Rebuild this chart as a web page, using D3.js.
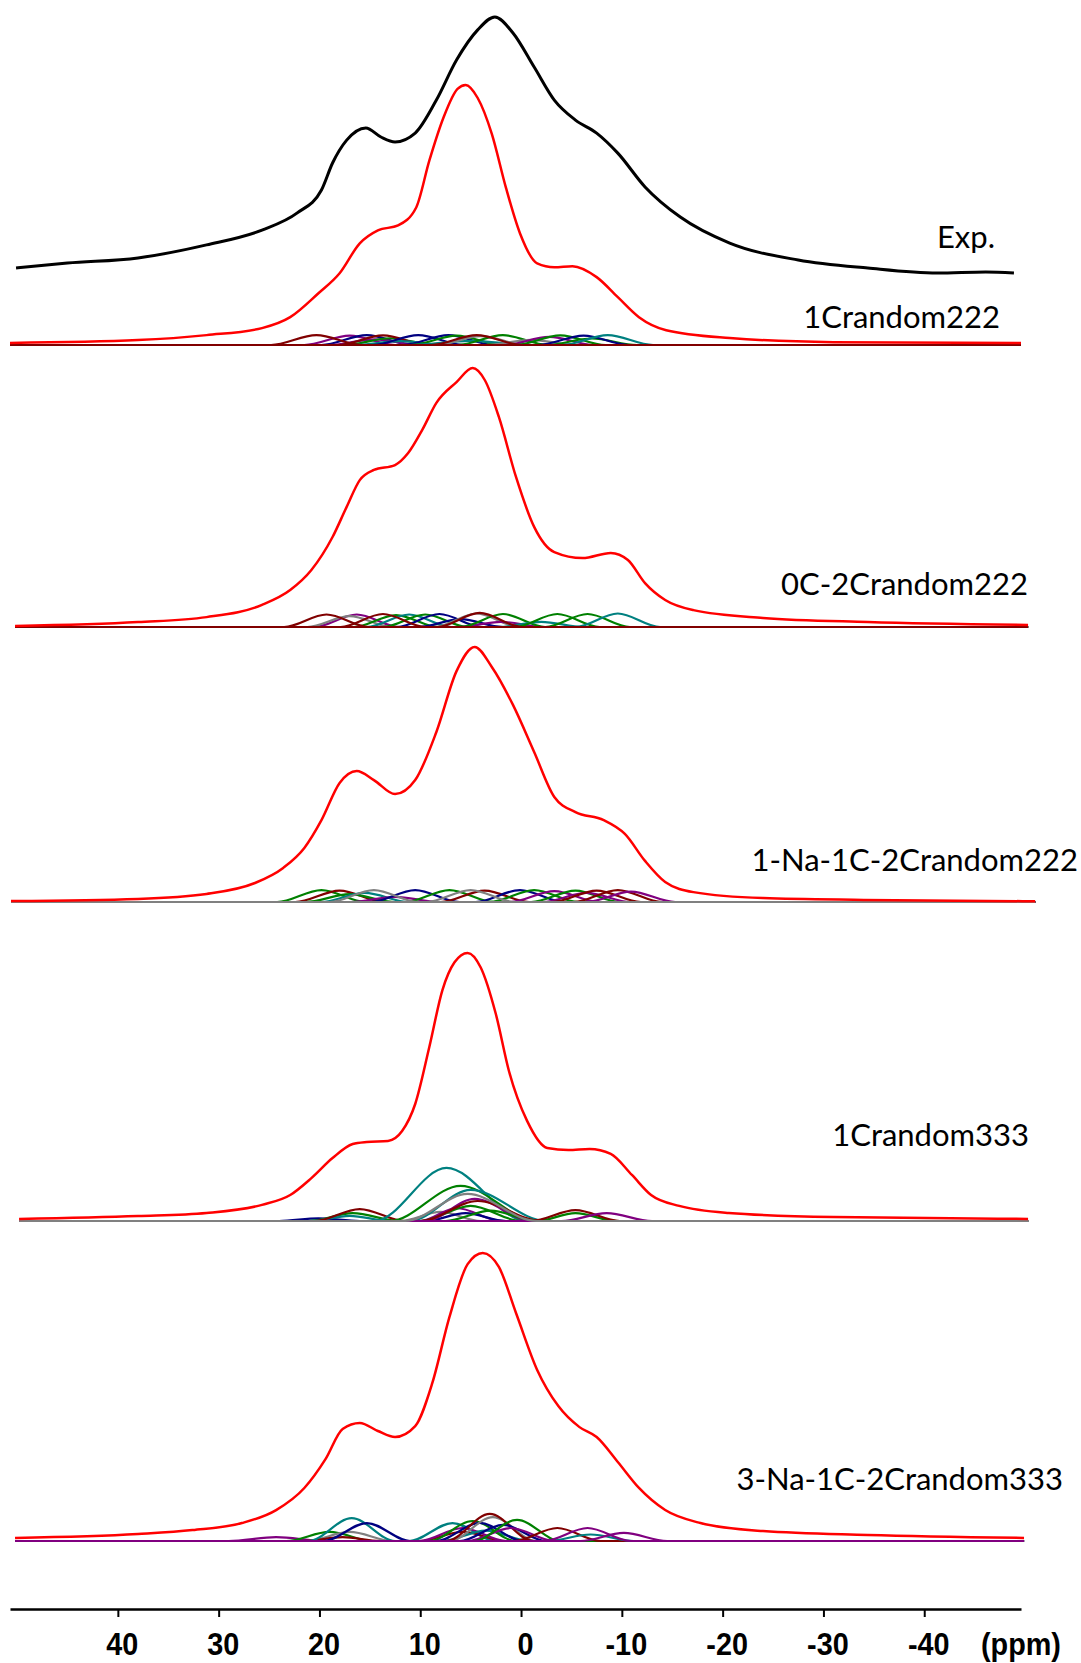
<!DOCTYPE html>
<html>
<head>
<meta charset="utf-8">
<script src="https://cdn.jsdelivr.net/npm/d3@7/dist/d3.min.js"></script>
<style>
  body { margin: 0; background: #fff; }
  .lbl { font-family: Lato, "Open Sans", sans-serif; font-size: 31px; fill: #000; }
  .axis text { font-family: "Liberation Sans", Arial, sans-serif; font-size: 32px; font-weight: bold; fill: #000; }
  .axis path { stroke: #000; stroke-width: 2.5; }
  .axis line { stroke: #000; stroke-width: 2; }
</style>
</head>
<body>
<script>
// chemical shift ticks (ppm)
var ppmTicks = [40, 30, 20, 10, 0, -10, -20, -30, -40];

// names
var expName = "Exp.";
var panelNames = ["1Crandom222", "0C-2Crandom222", "1-Na-1C-2Crandom222", "1Crandom333", "3-Na-1C-2Crandom333"];

// experimental spectrum [ppm, intensity], drawn with an offset above panel 1
var expOffset = 30;
var expSpec = [[50.1,-0.4],[45.0,1.5],[38.0,3.5],[31.2,8.5],[25.7,14.2],[22.2,20.8],[19.8,29.6],[18.7,40.0],[17.3,48.8],[15.4,53.5],[13.9,50.0],[12.5,48.1],[10.5,51.5],[8.4,64.2],[6.4,79.6],[4.3,91.2],[2.6,96.2],[0.8,90.0],[-1.3,76.9],[-3.3,64.2],[-5.4,56.5],[-7.5,51.5],[-9.6,43.8],[-12.3,30.8],[-15.8,19.2],[-20.7,9.2],[-27.5,2.7],[-34.4,-0.4],[-41.3,-2.3],[-46.1,-1.9],[-48.9,-2.3]];

// simulated total spectra (red)
var sim1 = [[50.7,0.8],[38.0,1.9],[31.2,3.8],[25.7,6.5],[22.9,10.7],[20.1,19.9],[18.0,27.6],[16.0,39.1],[14.2,44.1],[12.2,46.0],[10.4,52.9],[9.1,70.9],[7.7,87.4],[6.3,98.5],[5.5,100],[4.3,95],[2.9,81.2],[1.5,60.5],[0.1,42.9],[-1.6,31.4],[-3.3,29.9],[-5.1,30.3],[-7.5,26.1],[-9.6,18.4],[-11.7,10.7],[-14.4,5.7],[-20.7,2.7],[-31.0,1.1],[-49.6,0.8]];
var sim2 = [[50.2,0.4],[38.0,1.9],[31.2,3.8],[25.7,8.5],[22.9,14.2],[20.8,21.9],[18.7,34.6],[17.3,46.2],[16.0,56.5],[14.6,60.4],[12.5,62.3],[11.2,66.9],[9.8,75.8],[8.4,86.2],[6.4,94.2],[4.8,99.6],[3.6,95.0],[2.2,80.8],[0.5,57.7],[-1.3,38.5],[-3.3,28.8],[-6.1,26.5],[-8.9,28.5],[-10.6,25.8],[-12.3,16.9],[-14.3,10.4],[-17.1,6.5],[-24.0,3.5],[-34.4,1.9],[-50.3,0.8]];
var sim3 = [[50.6,0.4],[38.0,1.2],[31.2,3.1],[26.4,7.3],[23.6,13.1],[21.5,20.8],[19.8,31.5],[18.0,45.8],[16.3,50.4],[14.6,46.9],[12.5,41.5],[10.5,46.9],[8.4,65.4],[6.4,88.8],[4.6,98.1],[2.9,90.4],[0.8,75.8],[-1.3,57.7],[-3.3,40.4],[-5.4,34.6],[-8.2,31.5],[-10.3,26.2],[-12.3,15.8],[-14.3,7.7],[-17.1,3.8],[-24.0,1.5],[-34.0,0.8],[-51.0,0.3]];
var sim4 = [[49.8,0.8],[38.0,1.9],[31.2,3.1],[25.7,6.2],[22.9,10.0],[20.8,16.5],[18.7,24.2],[16.7,29.6],[15.3,30.4],[13.2,30.8],[11.8,34.6],[10.5,45.0],[9.1,66.9],[7.8,88.8],[6.6,99.5],[5.3,103.1],[4.0,97.5],[2.5,79.6],[1.2,57.7],[-0.6,38.5],[-2.6,28.1],[-4.7,27.3],[-6.8,27.7],[-8.9,25.8],[-11.0,17.7],[-12.9,10.0],[-15.7,5.8],[-20.6,3.1],[-31.0,1.5],[-50.3,0.8]];
var sim5 = [[50.2,1.2],[38.0,2.7],[32.6,4.2],[27.7,6.9],[24.3,11.9],[21.5,20.4],[19.4,31.5],[17.7,43.1],[16.0,45.4],[14.2,42.3],[12.5,40.0],[10.5,44.2],[8.8,60.8],[7.1,86.2],[5.3,106.5],[3.8,110.8],[2.2,105.4],[0.5,87.7],[-1.6,65.8],[-3.7,51.9],[-5.8,43.8],[-7.5,40.0],[-9.6,30.4],[-11.7,20.4],[-14.3,11.9],[-17.8,6.9],[-24.0,3.8],[-34.4,2.3],[-49.9,1.2]];

// individual site components [group, points]
var comps1 = [
  ["pu", [[21.5,0],[17.0,3.6],[12.5,0]]],
  ["nv", [[19.8,0],[15.3,3.8],[10.8,0]]],
  ["pu", [[19.0,0],[14.5,2.2],[10.0,0]]],
  ["gr", [[17.5,0],[13.0,2.6],[8.5,0]]],
  ["mr", [[18.2,0],[13.7,3.7],[9.2,0]]],
  ["tl", [[16.5,0],[12.0,1.5],[7.5,0]]],
  ["nv", [[14.7,0],[10.2,3.8],[5.7,0]]],
  ["nv", [[11.7,0],[7.2,3.8],[2.7,0]]],
  ["gr", [[10.9,0],[6.4,3.6],[1.9,0]]],
  ["tl", [[11.0,0],[5.0,1.6],[-1.0,0]]],
  ["gy", [[8.5,0],[4.0,3.4],[-0.5,0]]],
  ["gr", [[6.3,0],[1.8,3.8],[-2.7,0]]],
  ["gy", [[3.5,0],[-1.0,2.0],[-5.5,0]]],
  ["pu", [[1.7,0],[-2.8,3.1],[-7.3,0]]],
  ["gr", [[0.6,0],[-3.9,3.7],[-8.4,0]]],
  ["gr", [[-2.5,0],[-7.0,2.5],[-11.5,0]]],
  ["nv", [[-1.7,0],[-6.2,3.6],[-10.7,0]]],
  ["tl", [[-4.1,0],[-8.6,3.8],[-13.1,0]]],
  ["mr", [[24.8,0],[20.3,3.8],[15.8,0]]],
  ["mr", [[8.9,0],[4.4,3.8],[-0.1,0]]]
];
var comps2 = [
  ["pu", [[20.5,0],[16.3,4.8],[12.1,0]]],
  ["gy", [[21.2,0],[17.0,4.2],[12.8,0]]],
  ["gr", [[16.6,0],[12.4,4.6],[8.2,0]]],
  ["tl", [[15.3,0],[11.1,4.8],[6.9,0]]],
  ["gr", [[13.7,0],[9.5,4.8],[5.3,0]]],
  ["nv", [[12.3,0],[8.1,5.0],[3.9,0]]],
  ["nv", [[10.2,0],[6.0,3.0],[1.8,0]]],
  ["gy", [[8.6,0],[4.4,5.2],[0.2,0]]],
  ["pu", [[6.2,0],[2.0,2.0],[-2.2,0]]],
  ["gr", [[6.0,0],[1.8,5.0],[-2.4,0]]],
  ["tl", [[2.2,0],[-2.0,2.0],[-6.2,0]]],
  ["gr", [[0.6,0],[-3.6,5.0],[-7.8,0]]],
  ["gr", [[-2.4,0],[-6.6,5.0],[-10.8,0]]],
  ["tl", [[-5.4,0],[-9.6,5.2],[-13.8,0]]],
  ["mr", [[23.5,0],[19.3,4.8],[15.1,0]]],
  ["mr", [[17.9,0],[13.7,5.0],[9.5,0]]],
  ["mr", [[8.3,0],[4.1,5.4],[-0.1,0]]]
];
var comps3 = [
  ["gr", [[24.2,0],[19.8,4.6],[15.4,0]]],
  ["mr", [[22.4,0],[18.0,4.4],[13.6,0]]],
  ["gr", [[21.4,0],[17.0,3.0],[12.6,0]]],
  ["tl", [[19.9,0],[15.5,3.5],[11.1,0]]],
  ["pu", [[16.9,0],[12.5,2.0],[8.1,0]]],
  ["nv", [[14.9,0],[10.5,4.6],[6.1,0]]],
  ["gr", [[11.5,0],[7.1,4.6],[2.7,0]]],
  ["mr", [[8.0,0],[3.6,4.4],[-0.8,0]]],
  ["nv", [[4.5,0],[0.1,4.6],[-4.3,0]]],
  ["gr", [[3.1,0],[-1.3,4.6],[-5.7,0]]],
  ["pu", [[1.1,0],[-3.3,4.2],[-7.7,0]]],
  ["gr", [[-1.0,0],[-5.4,4.4],[-9.8,0]]],
  ["pu", [[-2.1,0],[-6.5,3.5],[-10.9,0]]],
  ["mr", [[-3.1,0],[-7.5,4.4],[-11.9,0]]],
  ["mr", [[-5.2,0],[-9.6,4.6],[-14.0,0]]],
  ["pu", [[-6.5,0],[-10.9,4.0],[-15.3,0]]],
  ["gy", [[9.4,0],[5.0,4.6],[0.6,0]]],
  ["gy", [[19.0,0],[14.6,4.6],[10.2,0]]]
];
var comps4 = [
  ["nv", [[24.0,0],[20.1,1.0],[16.0,0]]],
  ["gr", [[21.0,0],[16.7,3.0],[12.0,0]]],
  ["tl", [[21.0,0],[17.0,2.0],[13.0,0]]],
  ["mr", [[20.5,0],[16.0,4.6],[11.5,0]]],
  ["tl", [[14.5,0],[7.4,20.4],[-0.5,0]]],
  ["gr", [[13.0,0],[6.0,13.5],[-1.5,0]]],
  ["gy", [[12.0,0],[8.0,3.5],[4.0,0]]],
  ["pu", [[10.0,0],[6.4,5.0],[2.0,0]]],
  ["gr", [[10.0,0],[5.0,5.8],[0.0,0]]],
  ["nv", [[9.5,0],[5.5,3.0],[1.5,0]]],
  ["tl", [[11.0,0],[5.0,12.0],[-2.5,0]]],
  ["pu", [[9.5,0],[4.6,8.5],[-1.0,0]]],
  ["mr", [[10.0,0],[4.3,7.7],[-2.0,0]]],
  ["gr", [[7.5,0],[3.0,4.0],[-1.5,0]]],
  ["gr", [[-1.5,0],[-5.4,3.0],[-9.5,0]]],
  ["mr", [[-1.0,0],[-5.4,4.2],[-9.8,0]]],
  ["pu", [[-4.0,0],[-8.5,3.0],[-13.0,0]]],
  ["gy", [[11.5,0],[5.3,10.4],[-1.5,0]]]
];
var comps5 = [
  ["pu", [[29.0,0],[24.3,1.5],[19.5,0]]],
  ["gr", [[23.3,0],[19.0,3.5],[14.7,0]]],
  ["gy", [[21.3,0],[17.0,3.5],[12.7,0]]],
  ["mr", [[21.5,0],[17.7,1.5],[14.0,0]]],
  ["tl", [[21.1,0],[16.8,8.8],[12.5,0]]],
  ["nv", [[19.6,0],[15.3,6.9],[11.0,0]]],
  ["tl", [[11.1,0],[6.8,6.9],[2.5,0]]],
  ["mr", [[10.1,0],[5.8,3.5],[1.5,0]]],
  ["pu", [[10.1,0],[5.8,5.0],[1.5,0]]],
  ["tl", [[7.8,0],[3.5,4.0],[-0.8,0]]],
  ["gr", [[9.1,0],[4.8,7.7],[0.5,0]]],
  ["nv", [[8.4,0],[4.1,7.0],[-0.2,0]]],
  ["gy", [[7.1,0],[2.8,9.2],[-1.5,0]]],
  ["mr", [[7.4,0],[3.1,10.4],[-1.2,0]]],
  ["nv", [[6.1,0],[1.8,6.2],[-2.5,0]]],
  ["pu", [[5.3,0],[1.0,5.0],[-3.3,0]]],
  ["gr", [[4.7,0],[0.4,8.1],[-3.9,0]]],
  ["mr", [[0.7,0],[-3.6,5.0],[-7.9,0]]],
  ["tl", [[-2.6,0],[-6.9,2.5],[-11.2,0]]],
  ["pu", [[-5.9,0],[-10.2,3.1],[-14.5,0]]],
  ["pu", [[-2.3,0],[-6.6,5.0],[-10.9,0]]]
];

var sims = [sim1, sim2, sim3, sim4, sim5];
var comps = [comps1, comps2, comps3, comps4, comps5];

// styling / layout
var groupColor = { mr: "#800000", pu: "#800080", nv: "#000080", gr: "#008000", tl: "#008080", gy: "#808080" };
var baselines = [345, 627, 902, 1221, 1541];
var labelPos = [[1000, 328], [1028, 595], [1078, 871], [1029, 1146], [1063, 1490]];
var expLabelPos = [995, 248];

var width = 1081, height = 1663;

var svg = d3.select("body").append("svg")
    .attr("width", width)
    .attr("height", height)
    .style("display", "block");

svg.append("rect").attr("width", width).attr("height", height).attr("fill", "#fff");

var x = d3.scaleLinear().domain([50.7, -49.6]).range([10, 1021]);
var amp = d3.scaleLinear().domain([0, 100]).range([0, 260]);

function lineAt(base, off) {
    return d3.line()
        .x(function(d) { return x(d[0]); })
        .y(function(d) { return base - amp(d[1] + (off || 0)); })
        .curve(d3.curveMonotoneX);
}

sims.forEach(function(sim, i) {
    var g = svg.append("g");
    var base = baselines[i];
    var left = sim[0][0], right = sim[sim.length - 1][0];
    var line = lineAt(base);

    g.selectAll("path.comp")
        .data(comps[i])
        .enter()
            .append("path")
            .attr("class", "comp")
            .attr("fill", "none")
            .attr("stroke", function(d) { return groupColor[d[0]]; })
            .attr("stroke-width", 2.2)
            .attr("d", function(d) {
                return line([[left, 0]].concat(d[1], [[right, 0]]));
            });

    g.append("path")
        .datum(sim)
        .attr("fill", "none")
        .attr("stroke", "#ff0000")
        .attr("stroke-width", 2.5)
        .attr("d", line);

    g.append("text")
        .attr("class", "lbl")
        .attr("x", labelPos[i][0])
        .attr("y", labelPos[i][1])
        .attr("text-anchor", "end")
        .text(panelNames[i]);
});

// experimental
svg.append("path")
    .datum(expSpec)
    .attr("fill", "none")
    .attr("stroke", "#000")
    .attr("stroke-width", 3)
    .attr("d", lineAt(baselines[0], expOffset));

svg.append("text")
    .attr("class", "lbl")
    .attr("x", expLabelPos[0])
    .attr("y", expLabelPos[1])
    .attr("text-anchor", "end")
    .text(expName);

// axis
var axis = svg.append("g")
    .attr("class", "axis")
    .attr("transform", "translate(0,1609)")
    .call(d3.axisBottom(x)
        .tickValues(ppmTicks)
        .tickSize(8)
        .tickSizeOuter(0)
        .tickPadding(15)
        .tickFormat(function(d) { return String(d); }));

// slightly condensed bold labels, shifted a little right of the tick
axis.selectAll(".tick text")
    .attr("transform", "translate(4,0) scale(0.9,1)");

axis.append("text")
    .attr("transform", "translate(981,23) scale(0.9,1)")
    .attr("dy", "0.71em")
    .attr("text-anchor", "start")
    .text("(ppm)");
</script>
</body>
</html>
